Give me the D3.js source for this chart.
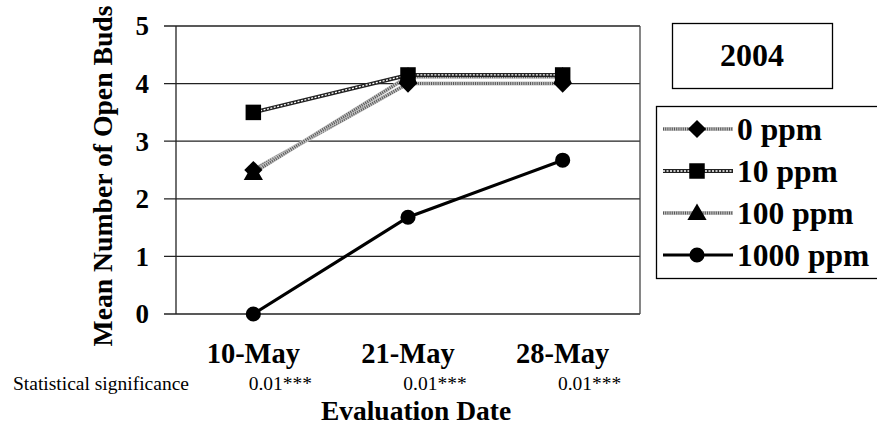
<!DOCTYPE html>
<html>
<head>
<meta charset="utf-8">
<script src="https://cdn.jsdelivr.net/npm/d3@7"></script>
</head>
<body style="margin:0;background:#fff">
<svg id="chart" width="877" height="431" style="display:block"></svg>
<script>
// ---- data ----
const categories = ["10-May", "21-May", "28-May"];
const seriesNames = ["0 ppm", "10 ppm", "100 ppm", "1000 ppm"];
const ppm0 = [2.5, 4.0, 4.0];
const ppm10 = [3.5, 4.15, 4.15];
const ppm100 = [2.45, 4.12, 4.12];
const ppm1000 = [0, 1.68, 2.67];
const yTicks = [0, 1, 2, 3, 4, 5];
const significance = ["0.01***", "0.01***", "0.01***"];
const yearLabel = "2004";

const seriesValues = [ppm0, ppm10, ppm100, ppm1000];
const markers = ["diamond", "square", "triangle", "circle"];
const styles = ["grey", "chain", "grey", "solid"];

const svg = d3.select("#chart");
svg.append("rect").attr("width", 877).attr("height", 431).attr("fill", "#fff");

function txt(sel, size, bold) {
  return sel.append("text")
    .attr("font-family", "Liberation Serif")
    .attr("font-size", size)
    .attr("font-weight", bold ? "bold" : "normal")
    .style("font-family", '"Liberation Serif"')
    .style("font-size", size + "px")
    .style("font-weight", bold ? "bold" : "normal")
    .attr("fill", "#000");
}

const plotLeft = 176, plotRight = 640, plotTop = 26, plotBottom = 314;
const x = d3.scalePoint().domain(categories).range([plotLeft, plotRight]).padding(0.5);
const y = d3.scaleLinear().domain([0, 5]).range([plotBottom, plotTop]);

// gridlines + ticks
const g = svg.append("g");
g.selectAll("line.grid").data(yTicks).join("line")
  .attr("x1", plotLeft - 12).attr("x2", plotRight)
  .attr("y1", d => y(d)).attr("y2", d => y(d))
  .attr("stroke", "#222").attr("stroke-width", 1.3);
g.append("line").attr("x1", plotLeft).attr("x2", plotLeft).attr("y1", plotTop).attr("y2", plotBottom)
  .attr("stroke", "#222").attr("stroke-width", 1.3);
g.append("line").attr("x1", plotRight).attr("x2", plotRight).attr("y1", plotTop).attr("y2", plotBottom)
  .attr("stroke", "#444").attr("stroke-width", 1.3);

// y tick labels
yTicks.forEach(t => {
  txt(g, 27, true).attr("x", 149).attr("y", y(t)).attr("dy", "0.35em")
    .attr("text-anchor", "end").text(t);
});

// x category labels
categories.forEach(c => {
  txt(g, 28.5, true).attr("x", x(c)).attr("y", 363).attr("text-anchor", "middle").text(c);
});

// significance row
txt(svg, 19.5, false).attr("x", 13).attr("y", 390).text("Statistical significance");
categories.forEach((c, i) => {
  txt(svg, 19.5, false).attr("x", x(c) + 27).attr("y", 390).attr("text-anchor", "middle")
    .text(significance[i]);
});

// axis titles
txt(svg, 27.5, true).attr("x", 416).attr("y", 420).attr("text-anchor", "middle").text("Evaluation Date");
txt(svg, 27.7, true).attr("transform", "translate(112,176) rotate(-90)")
  .attr("text-anchor", "middle").text("Mean Number of Open Buds");

// line drawing helpers
function drawStyledLine(sel, pts, style) {
  const line = d3.line().x(p => p[0]).y(p => p[1]);
  const d = line(pts);
  if (style === "grey") {
    sel.append("path").attr("d", d).attr("fill", "none").attr("stroke", "#c4c4c4").attr("stroke-width", 4);
    sel.append("path").attr("d", d).attr("fill", "none").attr("stroke", "#555").attr("stroke-width", 3).attr("stroke-dasharray", "1 1.2");
  } else if (style === "chain") {
    sel.append("path").attr("d", d).attr("fill", "none").attr("stroke", "#222").attr("stroke-width", 4);
    sel.append("path").attr("d", d).attr("fill", "none").attr("stroke", "#fff").attr("stroke-width", 1.3).attr("stroke-dasharray", "2 1.5");
  } else {
    sel.append("path").attr("d", d).attr("fill", "none").attr("stroke", "#000").attr("stroke-width", 3.2);
  }
}
const symbolTypes = {
  diamond: d3.symbolSquare, square: d3.symbolSquare,
  triangle: d3.symbolTriangle, circle: d3.symbolCircle
};
const symbolSizes = { diamond: 165, square: 240, triangle: 160, circle: 180 };
function drawMarker(sel, cx, cy, type) {
  const rot = type === "diamond" ? " rotate(45)" : "";
  sel.append("path")
    .attr("d", d3.symbol().type(symbolTypes[type]).size(symbolSizes[type])())
    .attr("transform", `translate(${cx},${cy + (type === "triangle" ? 1.5 : 0)})${rot}`)
    .attr("fill", "#000");
}

// series (draw order: 0, 100, 10, 1000)
const order = [0, 2, 1, 3];
const plot = svg.append("g");
order.forEach(si => {
  const pts = categories.map((c, i) => [x(c), y(seriesValues[si][i])]);
  drawStyledLine(plot.append("g"), pts, styles[si]);
});
order.forEach(si => {
  const sg = plot.append("g");
  categories.forEach((c, i) => drawMarker(sg, x(c), y(seriesValues[si][i]), markers[si]));
});

// year box
svg.append("rect").attr("x", 672.5).attr("y", 23.5).attr("width", 160).attr("height", 65)
  .attr("fill", "#fff").attr("stroke", "#000").attr("stroke-width", 1.3);
txt(svg, 32, true).attr("x", 752).attr("y", 66).attr("text-anchor", "middle").text(yearLabel);

// legend
const lg = svg.append("g");
lg.append("rect").attr("x", 656.5).attr("y", 106.5).attr("width", 225).attr("height", 172)
  .attr("fill", "#fff").attr("stroke", "#000").attr("stroke-width", 1.3);
const rowY = d3.scalePoint().domain(seriesNames).range([129, 255]);
seriesNames.forEach((name, si) => {
  const cy = rowY(name);
  const eg = lg.append("g");
  drawStyledLine(eg, [[663, cy], [733, cy]], styles[si]);
  drawMarker(eg, 697, cy, markers[si]);
  txt(eg, 31.5, true).attr("x", 737).attr("y", cy + 11).text(name);
});
</script>
</body>
</html>
